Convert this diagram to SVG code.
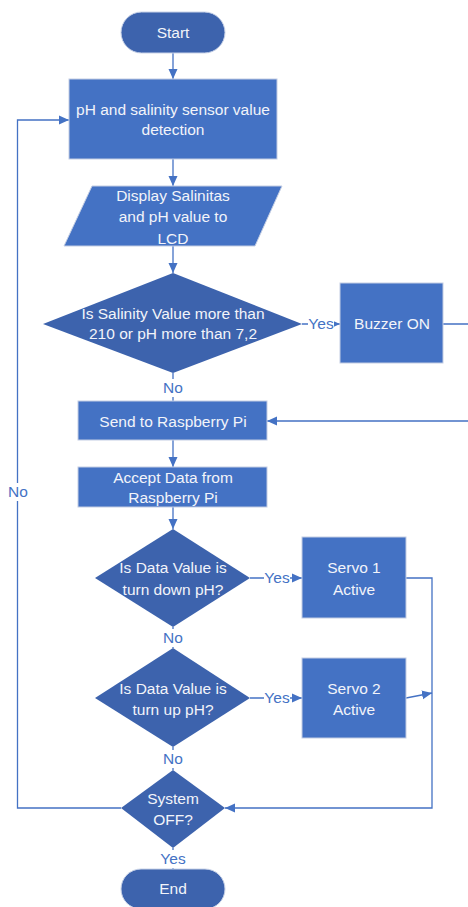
<svg xmlns="http://www.w3.org/2000/svg" width="468" height="907" viewBox="0 0 468 907">
<style>
.term{fill:#3d63ad;stroke:#c9d3e8;stroke-width:1}
.proc{fill:#4472c4;stroke:#c3cde3;stroke-width:1}
.dec{fill:#3d63ad}
.t{font-family:"Liberation Sans",Arial,sans-serif;font-size:15.5px;fill:#f2f4fa;text-anchor:middle}
.lbl{font-family:"Liberation Sans",Arial,sans-serif;font-size:15.5px;fill:#4472c4;text-anchor:middle}
.c{fill:none;stroke:#4472c4;stroke-width:1.3}
.bg{fill:#ffffff}
</style>
<defs>
<marker id="ah" markerUnits="userSpaceOnUse" markerWidth="10" markerHeight="10" viewBox="0 0 10 10" refX="10" refY="5" orient="auto">
<path d="M0,0.5 L10,5 L0,9.5 Z" fill="#4472c4"/>
</marker>
</defs>
<rect width="468" height="907" fill="#ffffff"/>
<g id="connectors">
<path class="c" d="M173,53 V79" marker-end="url(#ah)"/>
<path class="c" d="M173,159 V186" marker-end="url(#ah)"/>
<path class="c" d="M173,246 V273" marker-end="url(#ah)"/>
<path class="c" d="M302,324 H340" marker-end="url(#ah)"/>
<path class="c" d="M443,324 H476 V421 H267" marker-end="url(#ah)"/>
<path class="c" d="M173,373 V401"/>
<path class="c" d="M173,440 V467" marker-end="url(#ah)"/>
<path class="c" d="M173,507 V529" marker-end="url(#ah)"/>
<path class="c" d="M250,578 H302" marker-end="url(#ah)"/>
<path class="c" d="M173,627 V648"/>
<path class="c" d="M250,698 H302" marker-end="url(#ah)"/>
<path class="c" d="M406,578 H432 V808 H225" marker-end="url(#ah)"/>
<path class="c" d="M406,698 L432,693" marker-end="url(#ah)"/>
<path class="c" d="M173,747 V770"/>
<path class="c" d="M121,808 H17.5 V120 H69" marker-end="url(#ah)"/>
<path class="c" d="M173,848 V869"/>
<rect class="bg" x="157" y="379" width="32" height="18"/>
<text class="lbl" x="173" y="393">No</text>
<rect class="bg" x="308" y="316" width="26" height="16"/>
<text class="lbl" x="321" y="329">Yes</text>
<rect class="bg" x="264" y="570" width="26" height="16"/>
<text class="lbl" x="277" y="583">Yes</text>
<rect class="bg" x="157" y="629" width="32" height="18"/>
<text class="lbl" x="173" y="643">No</text>
<rect class="bg" x="264" y="690" width="26" height="16"/>
<text class="lbl" x="277" y="703">Yes</text>
<rect class="bg" x="157" y="750" width="32" height="18"/>
<text class="lbl" x="173" y="764">No</text>
<rect class="bg" x="5" y="483" width="26" height="18"/>
<text class="lbl" x="18" y="497">No</text>
<rect class="bg" x="160" y="850" width="26" height="18"/>
<text class="lbl" x="173" y="864">Yes</text>
</g>
<g id="start">
<rect class="term" x="121" y="12" width="104" height="41" rx="20.5"/>
<text class="t" x="173" y="38">Start</text>
</g>
<g id="detect">
<rect class="proc" x="69" y="79" width="208" height="80"/>
<text class="t" x="173" y="115">pH and salinity sensor value</text>
<text class="t" x="173" y="135">detection</text>
</g>
<g id="display">
<polygon class="proc" points="92,186 282,186 255,246 64,246"/>
<text class="t" x="173" y="201">Display Salinitas</text>
<text class="t" x="173" y="222">and pH value to</text>
<text class="t" x="173" y="244">LCD</text>
</g>
<g id="decision1">
<polygon class="dec" points="173,273 302,324 173,373 43,324"/>
<text class="t" x="173" y="319">Is Salinity Value more than</text>
<text class="t" x="173" y="339">210 or pH more than 7,2</text>
</g>
<g id="buzzer">
<rect class="proc" x="340" y="283" width="103" height="80"/>
<text class="t" x="392" y="329">Buzzer ON</text>
</g>
<g id="send">
<rect class="proc" x="78" y="401" width="189" height="39"/>
<text class="t" x="173" y="427">Send to Raspberry Pi</text>
</g>
<g id="accept">
<rect class="proc" x="78" y="467" width="189" height="40"/>
<text class="t" x="173" y="483">Accept Data from</text>
<text class="t" x="173" y="503">Raspberry Pi</text>
</g>
<g id="decision2">
<polygon class="dec" points="173,529 250,578 173,627 95,578"/>
<text class="t" x="173" y="573">Is Data Value is</text>
<text class="t" x="173" y="595">turn down pH?</text>
</g>
<g id="servo1">
<rect class="proc" x="302" y="537" width="104" height="81"/>
<text class="t" x="354" y="573">Servo 1</text>
<text class="t" x="354" y="595">Active</text>
</g>
<g id="decision3">
<polygon class="dec" points="173,648 250,698 173,747 95,698"/>
<text class="t" x="173" y="694">Is Data Value is</text>
<text class="t" x="173" y="715">turn up pH?</text>
</g>
<g id="servo2">
<rect class="proc" x="302" y="658" width="104" height="80"/>
<text class="t" x="354" y="694">Servo 2</text>
<text class="t" x="354" y="715">Active</text>
</g>
<g id="systemoff">
<polygon class="dec" points="173,770 225,808 173,848 121,808"/>
<text class="t" x="173" y="804">System</text>
<text class="t" x="173" y="825">OFF?</text>
</g>
<g id="end">
<rect class="term" x="121" y="869" width="104" height="40" rx="20"/>
<text class="t" x="173" y="894">End</text>
</g>
</svg>
